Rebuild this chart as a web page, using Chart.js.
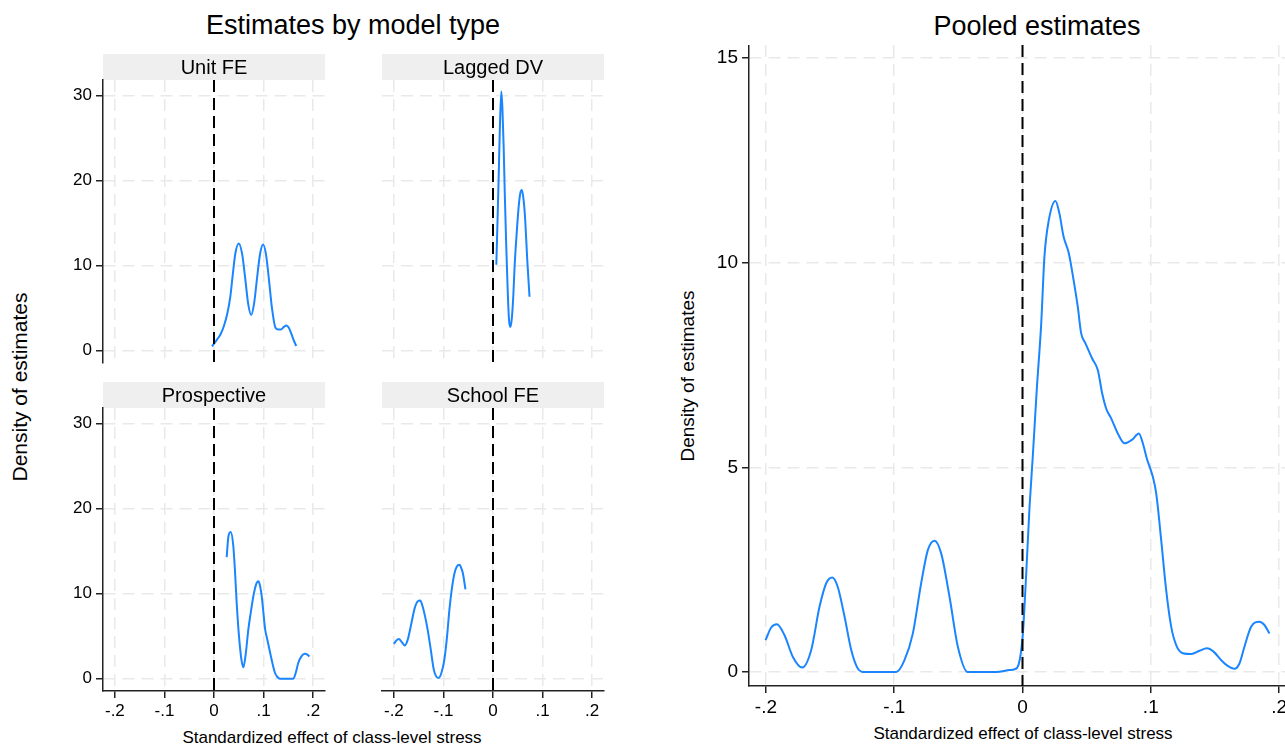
<!DOCTYPE html>
<html>
<head>
<meta charset="utf-8">
<script src="https://cdn.jsdelivr.net/npm/chart.js@4.4.1/dist/chart.umd.min.js"></script>
<style>
  body { margin: 0; width: 1285px; height: 745px; overflow: hidden; background: #fff; position: relative;
         font-family: "Liberation Sans", Arial, sans-serif; }
  canvas { position: absolute; }
  .lbl { position: absolute; white-space: nowrap; color: #000; transform: translate(-50%, -50%); }
  .rot { transform: translate(-50%, -50%) rotate(-90deg); }
</style>
</head>
<body>

<div class="lbl" style="left:353px; top:25px; font-size:27px;">Estimates by model type</div>
<div class="lbl" style="left:1037px; top:26px; font-size:27px;">Pooled estimates</div>
<div class="lbl rot" style="left:20px; top:387px; font-size:21px;">Density of estimates</div>
<div class="lbl rot" style="left:688px; top:376px; font-size:19px;">Density of estimates</div>
<div class="lbl" style="left:332px; top:738px; font-size:17px;">Standardized effect of class-level stress</div>
<div class="lbl" style="left:1023px; top:734px; font-size:17px;">Standardized effect of class-level stress</div>

<canvas id="unitFE" width="272" height="340" style="left:58px; top:53px;"></canvas>
<canvas id="laggedDV" width="272" height="340" style="left:337px; top:53px;"></canvas>
<canvas id="prospective" width="272" height="340" style="left:58px; top:381px;"></canvas>
<canvas id="schoolFE" width="272" height="340" style="left:337px; top:381px;"></canvas>
<canvas id="pooled" width="641" height="681" style="left:660px; top:45px;"></canvas>

<script>
// Tick values and labels
const xTickValues = [-0.2, -0.1, 0, 0.1, 0.2];
const xTickLabels = ["-.2", "-.1", "0", ".1", ".2"];
const smallYTicks = [0, 10, 20, 30];
const pooledYTicks = [0, 5, 10, 15];

// Kernel density curves (x = effect, y = density)
const unitFeX = [-0.004, 0.006, 0.013, 0.02, 0.027, 0.033, 0.038, 0.043, 0.05, 0.057, 0.063, 0.069, 0.075, 0.081, 0.087, 0.093, 0.099, 0.105, 0.111, 0.117, 0.124, 0.13, 0.135, 0.141, 0.146, 0.151, 0.156, 0.161, 0.166];
const unitFeY = [0.5, 1.3, 1.9, 2.9, 4.4, 6.4, 9.0, 11.4, 12.6, 11.3, 8.5, 5.5, 4.2, 5.6, 8.6, 11.4, 12.5, 11.3, 8.3, 5.0, 2.7, 2.5, 2.5, 2.8, 2.95, 2.7, 2.0, 1.2, 0.55];

const laggedDvX = [0.0067, 0.009, 0.0113, 0.014, 0.0168, 0.019, 0.0215, 0.024, 0.0268, 0.03, 0.0325, 0.035, 0.038, 0.041, 0.0436, 0.048, 0.0517, 0.055, 0.0584, 0.062, 0.065, 0.069, 0.0737];
const laggedDvY = [10.1, 15, 20.1, 26.5, 30.5, 28.5, 24, 18, 12.2, 6.5, 3.5, 2.8, 3.8, 6.5, 9.9, 14, 16.9, 18.5, 18.9, 17.6, 15.4, 10.8, 6.35];

const prospectiveX = [0.0256, 0.029, 0.0337, 0.039, 0.0425, 0.0458, 0.05, 0.055, 0.0592, 0.064, 0.0693, 0.0745, 0.0794, 0.085, 0.0895, 0.093, 0.0963, 0.1, 0.103, 0.108, 0.112, 0.118, 0.1232, 0.128, 0.1333, 0.16, 0.165, 0.17, 0.176, 0.1838, 0.189, 0.1926];
const prospectiveY = [14.3, 16.7, 17.25, 15.6, 12.5, 8.9, 5.3, 2.4, 1.33, 2.9, 5.8, 7.9, 9.7, 11.1, 11.45, 10.9, 9.7, 7.6, 5.9, 4.5, 3.4, 1.8, 0.67, 0.2, 0, 0, 0.7, 1.84, 2.6, 2.94, 2.8, 2.6];

const schoolFeX = [-0.2, -0.195, -0.19, -0.184, -0.1785, -0.172, -0.166, -0.158, -0.152, -0.147, -0.142, -0.137, -0.132, -0.126, -0.1195, -0.115, -0.11, -0.104, -0.0983, -0.093, -0.088, -0.083, -0.0777, -0.073, -0.0676, -0.064, -0.0608, -0.0555];
const schoolFeY = [4.1, 4.5, 4.66, 4.3, 3.9, 4.6, 6.15, 8.3, 9.1, 9.2, 8.5, 7.3, 5.8, 3.6, 1.06, 0.3, 0.08, 0.7, 2.2, 4.8, 8.1, 10.6, 12.4, 13.2, 13.4, 13.0, 12.4, 10.5];

const pooledX = [-0.2003, -0.1959, -0.1915, -0.1855, -0.179, -0.1717, -0.1647, -0.1582, -0.153, -0.1483, -0.144, -0.1387, -0.1335, -0.1284, -0.1231, -0.0984, -0.092, -0.0855, -0.079, -0.0738, -0.0686, -0.0634, -0.0569, -0.0504, -0.0426, -0.0205, -0.0101, -0.0062, -0.0029, 0.0003, 0.0029, 0.0055, 0.008, 0.0111, 0.0146, 0.0171, 0.0205, 0.0257, 0.0288, 0.032, 0.0361, 0.0398, 0.0431, 0.0457, 0.0491, 0.0543, 0.0587, 0.0621, 0.0652, 0.0691, 0.0743, 0.0795, 0.0855, 0.0907, 0.0938, 0.0969, 0.1016, 0.1042, 0.1081, 0.112, 0.1159, 0.1198, 0.125, 0.1315, 0.138, 0.1437, 0.1489, 0.1549, 0.16, 0.1652, 0.1691, 0.173, 0.1782, 0.1847, 0.1886, 0.1925];
const pooledY = [0.78, 1.09, 1.17, 0.9, 0.37, 0.11, 0.54, 1.6, 2.17, 2.31, 2.08, 1.35, 0.54, 0.09, 0, 0, 0.29, 0.94, 2.17, 2.98, 3.21, 2.9, 1.84, 0.62, 0, 0, 0.05, 0.07, 0.2, 0.94, 2.41, 4.04, 5.26, 6.89, 8.52, 10.15, 11.04, 11.51, 11.2, 10.64, 10.23, 9.58, 8.92, 8.28, 8.03, 7.66, 7.38, 6.81, 6.44, 6.2, 5.83, 5.59, 5.68, 5.83, 5.59, 5.22, 4.77, 4.37, 3.23, 2.0, 1.11, 0.66, 0.46, 0.44, 0.52, 0.58, 0.5, 0.29, 0.15, 0.08, 0.21, 0.62, 1.11, 1.23, 1.15, 0.94];

const refX = 0; // dashed reference line
const fontFamily = '"Liberation Sans", Arial, sans-serif';
const lineBlue = "#1a85ff";
const gridGrey = "#e9e9e9";
const axisDark = "#222";

const toPoints = (xs, ys) => xs.map((x, i) => ({ x: x, y: ys[i] }));

// Grey strip title above the plot region (small panels)
const headerStrip = {
    id: "headerStrip",
    beforeDraw(chart, args, opts) {
        if (!opts.text) return;
        const { ctx, chartArea } = chart;
        ctx.save();
        ctx.fillStyle = "#efefef";
        ctx.fillRect(chartArea.left, chartArea.top - 26, chartArea.right - chartArea.left, 26);
        ctx.fillStyle = "#000";
        ctx.font = "20px " + fontFamily;
        ctx.textAlign = "center";
        ctx.textBaseline = "middle";
        ctx.fillText(opts.text, (chartArea.left + chartArea.right) / 2, chartArea.top - 12);
        ctx.restore();
    },
};

// Vertical dashed line at zero
const zeroLine = {
    id: "zeroLine",
    afterDatasetsDraw(chart) {
        const { ctx, chartArea, scales } = chart;
        const px = scales.x.getPixelForValue(refX);
        ctx.save();
        ctx.strokeStyle = "#000";
        ctx.lineWidth = 2;
        ctx.setLineDash([12, 6]);
        ctx.beginPath();
        ctx.moveTo(px, chartArea.top);
        ctx.lineTo(px, chartArea.bottom);
        ctx.stroke();
        ctx.restore();
    },
};

function makeChart(id, cfg) {
    const ctx = document.getElementById(id).getContext("2d");
    return new Chart(ctx, {
        type: "line",
        data: {
            datasets: [
                {
                    data: toPoints(cfg.xs, cfg.ys),
                    borderColor: lineBlue,
                    borderWidth: 2,
                    pointRadius: 0,
                    fill: false,
                    cubicInterpolationMode: "monotone",
                },
            ],
        },
        options: {
            responsive: false,
            animation: false,
            layout: { padding: { top: cfg.padTop, right: 5, left: 0, bottom: 0 } },
            scales: {
                x: {
                    type: "linear",
                    min: cfg.xMin,
                    max: cfg.xMax,
                    afterBuildTicks: (s) => { s.ticks = xTickValues.map((v) => ({ value: v })); },
                    afterFit: (s) => { s.height = cfg.xAxisH; s.paddingLeft = 0; s.paddingRight = 0; },
                    border: { display: cfg.showX, color: axisDark, width: 1.5, dash: [12, 7] },
                    grid: { color: gridGrey, lineWidth: 1.5, drawTicks: cfg.showX, tickLength: 7, tickColor: axisDark, tickWidth: 1.5 },
                    ticks: {
                        display: cfg.showX,
                        autoSkip: false,
                        maxRotation: 0,
                        color: "#000",
                        padding: 3,
                        font: { size: cfg.tickSize, family: fontFamily },
                        callback: (v, i) => xTickLabels[i],
                    },
                },
                y: {
                    type: "linear",
                    min: cfg.yMin,
                    max: cfg.yMax,
                    afterBuildTicks: (s) => { s.ticks = cfg.yTicks.map((v) => ({ value: v })); },
                    afterFit: (s) => { s.width = cfg.yAxisW; s.paddingTop = 0; s.paddingBottom = 0; },
                    border: { display: cfg.showY, color: axisDark, width: 1.5, dash: [12, 7] },
                    grid: { color: gridGrey, lineWidth: 1.5, drawTicks: cfg.showY, tickLength: 7, tickColor: axisDark, tickWidth: 1.5 },
                    ticks: {
                        display: cfg.showY,
                        autoSkip: false,
                        color: "#000",
                        padding: 4,
                        font: { size: cfg.tickSize, family: fontFamily },
                    },
                },
            },
            plugins: {
                legend: { display: false },
                tooltip: { enabled: false },
                headerStrip: { text: cfg.title || "" },
            },
        },
        plugins: [headerStrip, zeroLine],
    });
}

// Small panels share one frame
const smallFrame = { xMin: -0.224, xMax: 0.224, yMin: -1.45, yMax: 31.85, yTicks: smallYTicks, padTop: 27, xAxisH: 30, yAxisW: 45, tickSize: 17 };

makeChart("unitFE", Object.assign({}, smallFrame, { xs: unitFeX, ys: unitFeY, title: "Unit FE", showX: false, showY: true }));
makeChart("laggedDV", Object.assign({}, smallFrame, { xs: laggedDvX, ys: laggedDvY, title: "Lagged DV", showX: false, showY: false }));
makeChart("prospective", Object.assign({}, smallFrame, { xs: prospectiveX, ys: prospectiveY, title: "Prospective", showX: true, showY: true }));
makeChart("schoolFE", Object.assign({}, smallFrame, { xs: schoolFeX, ys: schoolFeY, title: "School FE", showX: true, showY: false }));

// Pooled panel
makeChart("pooled", {
    xs: pooledX, ys: pooledY, title: "",
    xMin: -0.2132, xMax: 0.2132, yMin: -0.34, yMax: 15.32, yTicks: pooledYTicks,
    padTop: 0, xAxisH: 40, yAxisW: 89, tickSize: 19, showX: true, showY: true,
});
</script>
</body>
</html>
